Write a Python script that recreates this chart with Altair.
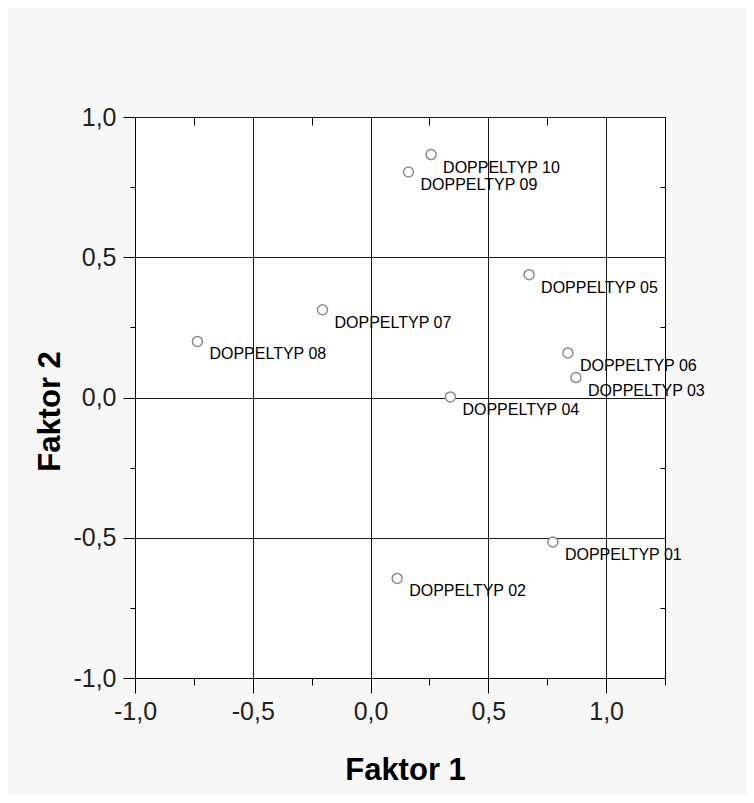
import altair as alt
import pandas as pd

# ---- data ----
labels = ["DOPPELTYP 01", "DOPPELTYP 02", "DOPPELTYP 03", "DOPPELTYP 04", "DOPPELTYP 05",
          "DOPPELTYP 06", "DOPPELTYP 07", "DOPPELTYP 08", "DOPPELTYP 09", "DOPPELTYP 10"]
faktor1 = [0.774, 0.113, 0.872, 0.339, 0.673, 0.838, -0.204, -0.735, 0.161, 0.257]
faktor2 = [-0.515, -0.645, 0.071, 0.002, 0.438, 0.159, 0.313, 0.200, 0.804, 0.866]

x_ticks = [-1.0, -0.75, -0.5, -0.25, 0.0, 0.25, 0.5, 0.75, 1.0, 1.25]
y_ticks = [-1.0, -0.75, -0.5, -0.25, 0.0, 0.25, 0.5, 0.75, 1.0]
minor_ticks = [-0.75, -0.25, 0.25, 0.75]

df = pd.DataFrame({"label": labels, "f1": faktor1, "f2": faktor2})
minor_df = pd.DataFrame({"m": minor_ticks})

SANS = "Liberation Sans, Arial, sans-serif"
MAJOR = "abs(datum.value * 2 - round(datum.value * 2)) < 0.001"
LABEL = (f"{MAJOR} ? ((datum.value < 0 ? '-' : '') + "
         "replace(format(abs(datum.value), '.1f'), '.', ',')) : ''")

xscale = alt.Scale(domain=[-1.0, 1.25], nice=False, zero=False)
yscale = alt.Scale(domain=[-1.0, 1.0], nice=False, zero=False)

x_axis = alt.Axis(
    values=x_ticks, labelExpr=LABEL, title="Faktor 1",
    tickSize={"condition": {"test": MAJOR, "value": 15}, "value": 7},
    gridOpacity={"condition": {"test": MAJOR, "value": 1}, "value": 0},
    labelOverlap=False, labelFlush=False, labelPadding=6,
    titleX=270, titleY=101, titleBaseline="alphabetic", titleAlign="center",
)
y_axis = alt.Axis(
    values=y_ticks, labelExpr=LABEL, title="Faktor 2",
    tickSize={"condition": {"test": MAJOR, "value": 12}, "value": 5},
    gridOpacity={"condition": {"test": MAJOR, "value": 1}, "value": 0},
    labelOverlap=False, labelFlush=False, labelPadding=7,
    titleX=-76, titleY=294, titleBaseline="alphabetic", titleAlign="center", titleAngle=270,
)

base = alt.Chart(df)

points = base.mark_point(
    shape="circle", filled=False, fill="white", size=100,
    stroke="#8c8c8c", strokeWidth=1.5, opacity=1,
).encode(
    x=alt.X("f1:Q", scale=xscale, axis=x_axis),
    y=alt.Y("f2:Q", scale=yscale, axis=y_axis),
)

texts = base.mark_text(
    align="left", baseline="alphabetic", dx=12, dy=18,
    font=SANS, fontSize=16, color="black",
).encode(
    x=alt.X("f1:Q", scale=xscale, axis=None),
    y=alt.Y("f2:Q", scale=yscale, axis=None),
    text="label:N",
)

inner_ticks = alt.Chart(minor_df).mark_point(opacity=0).encode(
    x=alt.X("m:Q", scale=xscale, axis=alt.Axis(
        orient="top", offset=-8, tickSize=8, values=minor_ticks, labels=False,
        domain=False, grid=False, title=None, tickColor="black", tickWidth=1)),
    y=alt.Y("m:Q", scale=yscale, axis=alt.Axis(
        orient="right", offset=-5, tickSize=5, values=minor_ticks, labels=False,
        domain=False, grid=False, title=None, tickColor="black", tickWidth=1)),
)

chart = alt.layer(points, texts, inner_ticks).resolve_axis(
    x="independent", y="independent"
).properties(
    width=530, height=561,
    autosize=alt.AutoSizeParams(type="none"),
    padding={"left": 127, "top": 109, "right": 81, "bottom": 117},
    background="#f7f7f7",
).configure_view(
    stroke="black", strokeWidth=1, fill="white",
).configure_axis(
    domainColor="black", domainWidth=1,
    tickColor="black", tickWidth=1,
    gridColor="#1a1a1a", gridWidth=1,
    labelFont=SANS, labelFontSize=25, labelColor="#222222",
    titleFont=SANS, titleFontSize=31, titleFontWeight="bold", titleColor="black",
)

chart.save("out.html", embed_options={"renderer": "svg", "actions": False})
